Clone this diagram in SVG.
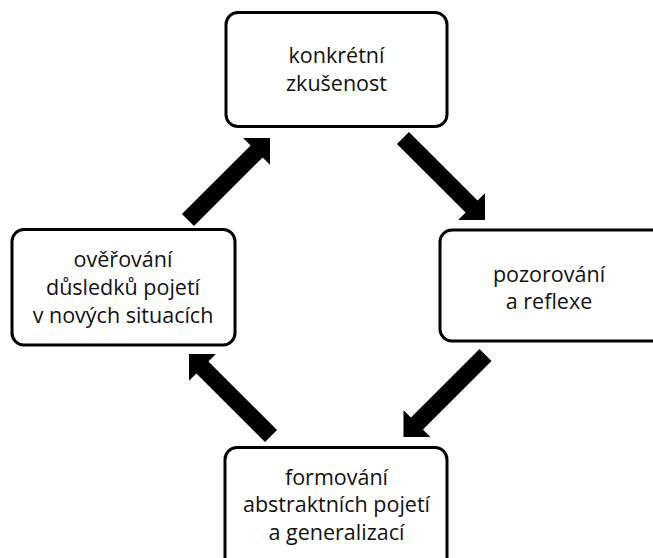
<svg xmlns="http://www.w3.org/2000/svg" xmlns:xlink="http://www.w3.org/1999/xlink" width="653" height="558" viewBox="0 0 653 558">
<style>
.box{fill:#fff;stroke:#000;stroke-width:3}
.lbl{font-family:"Open Sans","Liberation Sans",sans-serif;font-size:21.5px;fill:#111;text-anchor:middle}
.arr{fill:#000}
</style>
<defs>
<path id="arrow" d="M0,0 L-19,-19 L-19,-8.5 L-116,-8.5 L-116,8.5 L-19,8.5 L-19,19 Z"/>
</defs>
<rect width="653" height="558" fill="#fff"/>
<g id="connectors" class="arr">
<use xlink:href="#arrow" href="#arrow" transform="translate(485,220) rotate(45)"/>
<use xlink:href="#arrow" href="#arrow" transform="translate(403.5,437) rotate(135)"/>
<use xlink:href="#arrow" href="#arrow" transform="translate(189,354) rotate(225)"/>
<use xlink:href="#arrow" href="#arrow" transform="translate(270,138) rotate(-45)"/>
</g>
<g id="node-konkretni">
<rect class="box" x="226" y="12.5" width="221" height="114" rx="12"/>
<text class="lbl" x="336.5" y="63">konkrétní</text>
<text class="lbl" x="336.5" y="91">zkušenost</text>
</g>
<g id="node-pozorovani">
<rect class="box" x="440" y="230" width="225" height="111" rx="12"/>
<text class="lbl" x="549" y="282">pozorování</text>
<text class="lbl" x="549" y="308.5">a reflexe</text>
</g>
<g id="node-formovani">
<rect class="box" x="225" y="447.5" width="222" height="125" rx="12"/>
<text class="lbl" x="336.5" y="485">formování</text>
<text class="lbl" x="336.5" y="512">abstraktních pojetí</text>
<text class="lbl" x="336.5" y="540">a generalizací</text>
</g>
<g id="node-overovani">
<rect class="box" x="12" y="229.5" width="223" height="115.5" rx="12"/>
<text class="lbl" x="123" y="267">ověřování</text>
<text class="lbl" x="123" y="295">důsledků pojetí</text>
<text class="lbl" x="123" y="323">v nových situacích</text>
</g>
</svg>
